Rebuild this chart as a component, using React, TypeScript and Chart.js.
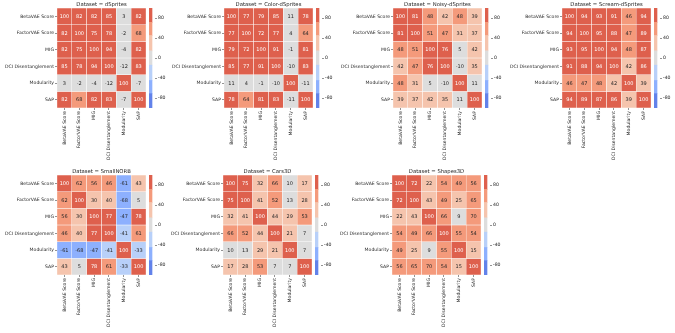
import React, { useEffect, useRef } from "react";
import { Chart, registerables } from "chart.js";
Chart.register(...registerables);

const metrics = ["BetaVAE Score", "FactorVAE Score", "MIG", "DCI Disentanglement", "Modularity", "SAP"];

const dSprites = [
  [100, 82, 82, 85, 3, 82],
  [82, 100, 75, 78, -2, 68],
  [82, 75, 100, 94, -4, 82],
  [85, 78, 94, 100, -12, 83],
  [3, -2, -4, -12, 100, -7],
  [82, 68, 82, 83, -7, 100],
];
const colorDSprites = [
  [100, 77, 79, 85, 11, 78],
  [77, 100, 72, 77, 4, 64],
  [79, 72, 100, 91, -1, 81],
  [85, 77, 91, 100, -10, 83],
  [11, 4, -1, -10, 100, -11],
  [78, 64, 81, 83, -11, 100],
];
const noisyDSprites = [
  [100, 81, 48, 42, 48, 39],
  [81, 100, 51, 47, 31, 37],
  [48, 51, 100, 76, 5, 42],
  [42, 47, 76, 100, -10, 35],
  [48, 31, 5, -10, 100, 11],
  [39, 37, 42, 35, 11, 100],
];
const screamDSprites = [
  [100, 94, 93, 91, 46, 94],
  [94, 100, 95, 88, 47, 89],
  [93, 95, 100, 94, 48, 87],
  [91, 88, 94, 100, 42, 86],
  [46, 47, 48, 42, 100, 39],
  [94, 89, 87, 86, 39, 100],
];
const smallNORB = [
  [100, 62, 56, 46, -61, 43],
  [62, 100, 30, 40, -68, 5],
  [56, 30, 100, 77, -47, 78],
  [46, 40, 77, 100, -41, 61],
  [-61, -68, -47, -41, 100, -33],
  [43, 5, 78, 61, -33, 100],
];
const cars3D = [
  [100, 75, 32, 66, 10, 17],
  [75, 100, 41, 52, 13, 28],
  [32, 41, 100, 44, 29, 53],
  [66, 52, 44, 100, 21, 7],
  [10, 13, 29, 21, 100, 7],
  [17, 28, 53, 7, 7, 100],
];
const shapes3D = [
  [100, 72, 22, 54, 49, 56],
  [72, 100, 43, 49, 25, 65],
  [22, 43, 100, 66, 9, 70],
  [54, 49, 66, 100, 55, 54],
  [49, 25, 9, 55, 100, 15],
  [56, 65, 70, 54, 15, 100],
];

const panelTitles = [
  "Dataset = dSprites",
  "Dataset = Color-dSprites",
  "Dataset = Noisy-dSprites",
  "Dataset = Scream-dSprites",
  "Dataset = SmallNORB",
  "Dataset = Cars3D",
  "Dataset = Shapes3D",
];
const panelValues = [dSprites, colorDSprites, noisyDSprites, screamDSprites, smallNORB, cars3D, shapes3D];

const colorbarTicks = [-80, -40, 0, 40, 80];
const binEdges = [-100, -71.4, -45, -14.3, 14.3, 45, 71.4, 100];
const palette = ["#6282ea", "#8db0fe", "#b8d0f9", "#dddddd", "#f5c4ad", "#f49a7b", "#de604d"];

// layout (pixels)
const panelLefts = [57, 224, 393, 562, 57, 223, 392];
const panelTops = [8, 8, 8, 8, 175, 175, 175];
const cellAreaW = 89;
const cellAreaH = 100;
const yAxisW = 57;
const xAxisH = 57;
const padTop = 8;
const textColor = "#262626";
const FONT = "DejaVu Sans";

function binIndex(v: number) {
  for (let k = 0; k < palette.length; k++) {
    if (v < binEdges[k + 1]) return k;
  }
  return palette.length - 1;
}
function cellColor(v: number) {
  return palette[binIndex(v)];
}
function textColorFor(v: number) {
  const b = binIndex(v);
  return b === 0 || b === 6 ? "#ffffff" : textColor;
}

function Heatmap({ index }: { index: number }) {
  const ref = useRef<HTMLCanvasElement | null>(null);
  const cbRef = useRef<HTMLCanvasElement | null>(null);
  const values = panelValues[index];
  const title = panelTitles[index];
  const left = panelLefts[index] - yAxisW;
  const top = panelTops[index] - padTop;
  const W = yAxisW + cellAreaW;
  const H = padTop + cellAreaH + xAxisH;
  const cbW = 26;
  const cbLeft = panelLefts[index] + cellAreaW + 3;

  useEffect(() => {
    if (!ref.current || !cbRef.current) return;
    const annotPlugin = {
      id: "annot" + index,
      afterDatasetsDraw(chart: any) {
        const ctx = chart.ctx;
        ctx.save();
        ctx.font = `5px "${FONT}"`;
        ctx.textAlign = "center";
        ctx.textBaseline = "middle";
        values.forEach((row, i) => {
          const meta = chart.getDatasetMeta(i);
          row.forEach((v, j) => {
            const el = meta.data[j];
            if (!el) return;
            const c = el.getCenterPoint();
            ctx.fillStyle = textColorFor(v);
            ctx.fillText(String(v), c.x, c.y + 0.3);
          });
        });
        ctx.restore();
      },
    };
    const titlePlugin = {
      id: "ttl" + index,
      afterDraw(chart: any) {
        const ctx = chart.ctx;
        const a = chart.chartArea;
        ctx.save();
        ctx.font = `5.3px "${FONT}"`;
        ctx.fillStyle = textColor;
        ctx.textAlign = "center";
        ctx.textBaseline = "bottom";
        ctx.fillText(title, (a.left + a.right) / 2, a.top - 1);
        ctx.restore();
      },
    };
    const tickFont = { family: FONT, size: 4.6 };
    const chart = new Chart(ref.current, {
      type: "bar",
      data: {
        labels: metrics,
        datasets: values.map((row, i) => ({
          data: row.map(() => [i, i + 1]),
          backgroundColor: row.map(cellColor),
          borderColor: "#ffffff",
          borderWidth: 0.5,
          borderSkipped: false,
          grouped: false,
          barPercentage: 1,
          categoryPercentage: 1,
        })) as any,
      },
      options: {
        animation: false,
        responsive: false,
        devicePixelRatio: 1,
        layout: { padding: { top: padTop, left: 0, right: 0, bottom: 0 } },
        plugins: { legend: { display: false }, tooltip: { enabled: false }, title: { display: false } },
        scales: {
          x: {
            type: "category",
            offset: true,
            grid: { offset: false, drawOnChartArea: false, drawTicks: true, tickLength: 2, color: textColor, lineWidth: 0.5 },
            border: { display: false },
            ticks: { autoSkip: false, maxRotation: 90, minRotation: 90, padding: 1, color: textColor, font: tickFont },
            afterFit: (s: any) => {
              s.height = xAxisH;
            },
          },
          y: {
            type: "linear",
            min: 0,
            max: 6,
            reverse: true,
            grid: { drawOnChartArea: false, drawTicks: true, tickLength: 2, color: textColor, lineWidth: 0.5 },
            border: { display: false },
            afterBuildTicks: (s: any) => {
              s.ticks = metrics.map((_, k) => ({ value: k + 0.5 }));
            },
            ticks: {
              autoSkip: false,
              padding: 1,
              color: textColor,
              font: tickFont,
              callback: (v: any) => metrics[Math.floor(Number(v))],
            },
            afterFit: (s: any) => {
              s.width = yAxisW;
            },
          },
        },
      } as any,
      plugins: [annotPlugin, titlePlugin],
    });

    const bands = palette.map((c, k) => ({
      data: [[binEdges[k], binEdges[k + 1]]],
      backgroundColor: c,
      borderWidth: 0,
      grouped: false,
      barPercentage: 1,
      categoryPercentage: 1,
    }));
    const cb = new Chart(cbRef.current, {
      type: "bar",
      data: { labels: [""], datasets: bands as any },
      options: {
        animation: false,
        responsive: false,
        devicePixelRatio: 1,
        layout: { padding: { top: padTop, left: 0, right: 0, bottom: xAxisH } },
        plugins: { legend: { display: false }, tooltip: { enabled: false } },
        scales: {
          x: { display: false, offset: false },
          y: {
            type: "linear",
            position: "right",
            min: -100,
            max: 100,
            grid: { drawOnChartArea: false, drawTicks: true, tickLength: 2, color: textColor, lineWidth: 0.5 },
            border: { display: false },
            afterBuildTicks: (s: any) => {
              s.ticks = colorbarTicks.map((v) => ({ value: v }));
            },
            ticks: { padding: 1, color: textColor, font: tickFont, callback: (v: any) => String(v) },
            afterFit: (s: any) => {
              s.width = cbW - 6;
            },
          },
        },
      } as any,
    });
    return () => {
      chart.destroy();
      cb.destroy();
    };
  }, [index]);

  return (
    <>
      <canvas
        ref={ref}
        width={W}
        height={H}
        style={{ position: "absolute", left, top, width: W, height: H }}
      />
      <canvas
        ref={cbRef}
        width={cbW}
        height={H}
        style={{ position: "absolute", left: cbLeft, top, width: cbW, height: H }}
      />
    </>
  );
}

export default function App() {
  return (
    <div style={{ position: "absolute", left: 0, top: 0, width: 675, height: 333, background: "#ffffff", overflow: "hidden" }}>
      {panelTitles.map((_, i) => (
        <Heatmap key={i} index={i} />
      ))}
    </div>
  );
}
